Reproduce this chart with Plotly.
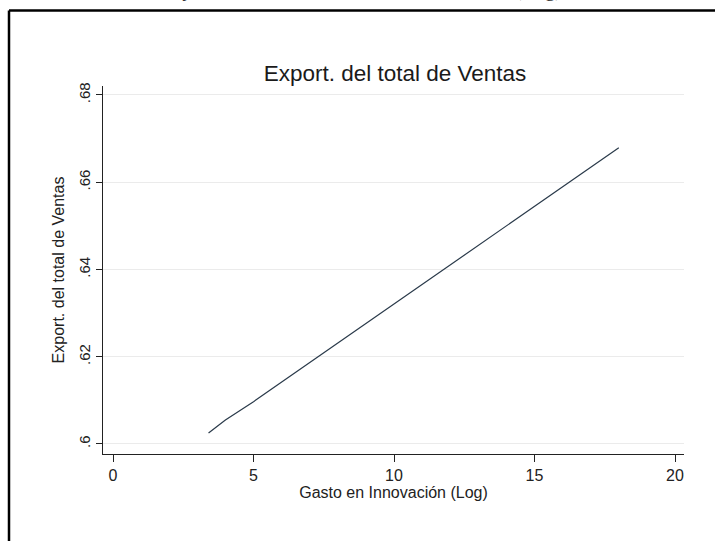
import plotly.graph_objects as go

# Predicted export share of sales against log innovation spending
gasto_log = [3.4, 4.0, 5.0, 7.5, 10.0, 12.5, 15.0, 18.0]
export_ventas = [0.6025, 0.6055, 0.6097, 0.6209, 0.6321, 0.6433, 0.6545, 0.6679]

x_ticks = [0, 5, 10, 15, 20]
y_ticks = [0.60, 0.62, 0.64, 0.66, 0.68]
y_tick_text = [".6", ".62", ".64", ".66", ".68"]

W, H = 715, 541
L, R, T, B = 103, 31, 86, 87
pw, ph = W - L - R, H - T - B

def px_x(p):
    return (p - L) / pw

def px_y(p):
    return (H - B - p) / ph

font = "Liberation Sans, Arial, sans-serif"

fig = go.Figure()
fig.add_trace(go.Scatter(
    x=gasto_log, y=export_ventas, mode="lines",
    line=dict(color="#2a3a4a", width=1.2),
    showlegend=False, hoverinfo="skip",
))

fig.update_layout(
    width=W, height=H,
    margin=dict(l=L, r=R, t=T, b=B),
    paper_bgcolor="white", plot_bgcolor="white",
    font=dict(family=font, size=14, color="#222"),
    title=dict(text="Export. del total de Ventas", xref="paper", x=px_x(395),
               xanchor="center", yref="container", y=1 - 73 / H, yanchor="middle",
               font=dict(family=font, size=22.5, color="#1a1a1a")),
    xaxis=dict(
        range=[-0.356, 20.32], tickvals=x_ticks, ticks="outside", ticklen=7,
        tickcolor="#222", showline=True, linecolor="#222", linewidth=1.3,
        showgrid=False, zeroline=False,
        tickfont=dict(family=font, size=16, color="#222"),
        title=dict(text="Gasto en Innovación (Log)", standoff=0,
                   font=dict(family=font, size=16, color="#222")),
    ),
    yaxis=dict(
        range=[0.5977, 0.68206], tickvals=y_ticks, ticktext=y_tick_text,
        tickangle=-90, ticks="outside", ticklen=6, tickcolor="#222",
        showline=True, linecolor="#222", linewidth=1.3,
        showgrid=True, gridcolor="#ebebeb", gridwidth=1, zeroline=False,
        tickfont=dict(family=font, size=15, color="#222"),
        title=dict(text="Export. del total de Ventas", standoff=7,
                   font=dict(family=font, size=16, color="#222")),
    ),
)

# Outer frame (left and top edges)
fig.add_shape(type="line", xref="paper", yref="paper",
              x0=px_x(9), x1=px_x(720), y0=px_y(10.5), y1=px_y(10.5),
              line=dict(color="black", width=2.5))
fig.add_shape(type="line", xref="paper", yref="paper",
              x0=px_x(9), x1=px_x(9), y0=px_y(10.5), y1=px_y(560),
              line=dict(color="black", width=2.5))

# Page heading above the frame
fig.add_annotation(text="Ventas y Gasto Total en Innovación del Sector (Log)",
                   xref="paper", yref="paper", x=px_x(564), y=px_y(3),
                   xanchor="right", yanchor="bottom", showarrow=False,
                   font=dict(family="Liberation Serif, serif", size=21, color="#333"))

fig.write_html("out.html")
